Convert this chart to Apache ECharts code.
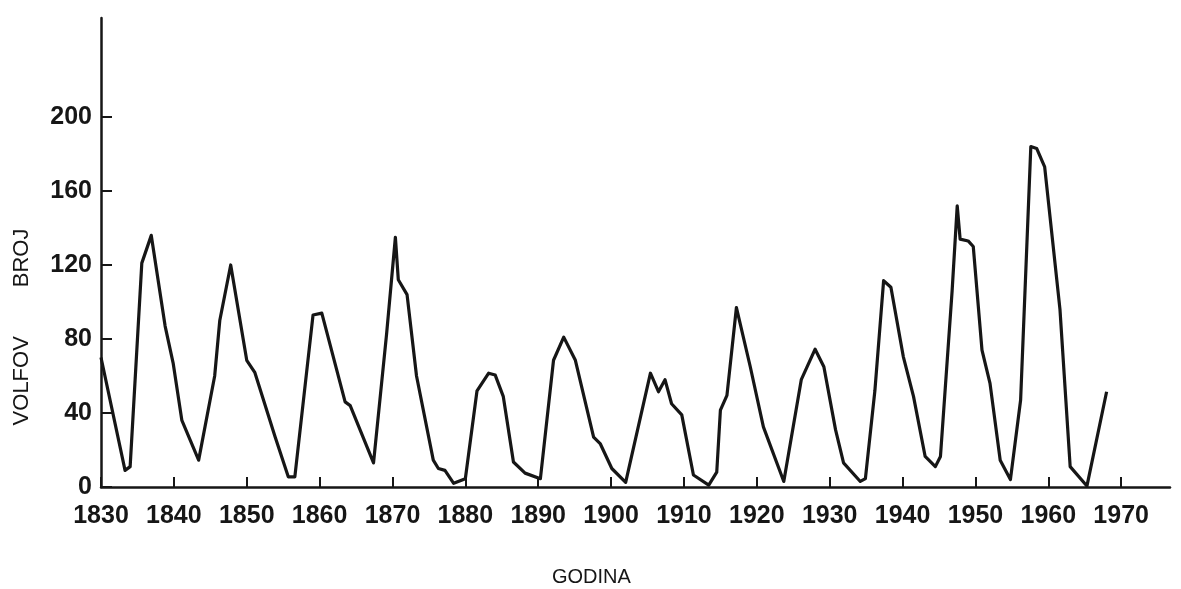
<!DOCTYPE html>
<html>
<head>
<meta charset="utf-8">
<script src="https://cdn.jsdelivr.net/npm/echarts@6/dist/echarts.min.js"></script>
<style>
  html, body { margin: 0; padding: 0; background: #fff; }
  #chart { width: 1181px; height: 589px; }
</style>
</head>
<body>
<div id="chart"></div>
<script>
// years (fractional where the curve bends between years)
var years = [1830.0, 1833.3, 1834.0, 1835.6, 1836.9, 1838.8, 1839.9, 1841.1, 1843.4, 1845.6,
  1846.3, 1847.8, 1850.0, 1851.1, 1853.9, 1855.7, 1856.6, 1859.1, 1860.3, 1863.5,
  1864.2, 1867.4, 1869.2, 1870.4, 1870.8, 1872.0, 1873.3, 1875.6, 1876.3, 1877.2,
  1878.4, 1880.0, 1881.6, 1883.2, 1884.1, 1885.2, 1886.6, 1888.2, 1890.3, 1892.1,
  1893.5, 1895.1, 1897.6, 1898.5, 1900.1, 1902.0, 1905.4, 1906.5, 1907.4, 1908.3,
  1909.7, 1911.3, 1913.4, 1914.5, 1915.0, 1915.9, 1917.2, 1919.1, 1920.9, 1923.7,
  1926.1, 1928.0, 1929.2, 1930.8, 1931.9, 1934.2, 1934.9, 1936.2, 1937.4, 1938.4,
  1940.1, 1941.5, 1943.1, 1944.5, 1945.2, 1946.8, 1947.5, 1947.9, 1949.0, 1949.7,
  1950.9, 1952.0, 1953.4, 1954.8, 1956.2, 1957.6, 1958.4, 1959.5, 1961.6, 1963.0,
  1965.3, 1968.0];

// Wolf sunspot number
var wolfNumber = [70, 9, 11, 121, 136, 87, 67, 36, 14.5, 60,
  90, 120, 68.5, 62, 27, 5.5, 5.5, 93, 94, 46,
  44, 13, 83, 135, 112, 104, 60, 14.5, 10, 9,
  2, 4.5, 52, 61.5, 60.5, 49, 13.5, 7.5, 4.5, 68.5,
  81, 68.5, 27, 23.5, 10, 2.5, 61.5, 51.5, 58, 45,
  39, 6.5, 1, 8, 41.5, 49.5, 97, 65, 32.5, 3,
  58, 74.5, 65, 31, 13, 3, 4.5, 52, 111.5, 108,
  70.5, 49, 16.5, 11, 16.5, 106, 152, 134, 133, 130,
  74, 56, 14.5, 4, 47, 184, 183, 173, 96, 11,
  0.5, 51.5];

var xTicks = [1830, 1840, 1850, 1860, 1870, 1880, 1890, 1900, 1910, 1920, 1930, 1940, 1950, 1960, 1970];
var yTicks = [0, 40, 80, 120, 160, 200];

var points = years.map(function (y, i) { return [y, wolfNumber[i]]; });

var ink = '#161616';
var labelFont = { color: ink, fontFamily: 'Liberation Sans', fontSize: 25, fontWeight: 'bold' };

var chart = echarts.init(document.getElementById('chart'));
chart.setOption({
    animation: false,
    backgroundColor: '#fff',
    grid: { left: 101, right: 11, top: 18, bottom: 102, outerBoundsMode: 'none' },
    xAxis: {
        type: 'value',
        min: 1830,
        max: 1976.7,
        axisLine: { lineStyle: { color: ink, width: 2.5 } },
        axisTick: { inside: true, length: 10, customValues: xTicks, lineStyle: { color: ink, width: 2 } },
        axisLabel: Object.assign({ customValues: xTicks, margin: 17, formatter: function (v) { return String(v); } }, labelFont),
        splitLine: { show: false }
    },
    yAxis: {
        type: 'value',
        min: 0,
        max: 253.5,
        axisLine: { show: true, lineStyle: { color: ink, width: 2.5 } },
        axisTick: { show: true, inside: true, length: 11, customValues: yTicks, lineStyle: { color: ink, width: 2 } },
        axisLabel: Object.assign({ customValues: yTicks, margin: 9, formatter: function (v) { return String(v); } }, labelFont),
        splitLine: { show: false }
    },
    graphic: [
        {
            type: 'text',
            left: 552, top: 567,
            style: { text: 'GODINA', fill: ink, font: '20px "Liberation Sans"' }
        },
        {
            type: 'text',
            x: 22, y: 327,
            rotation: Math.PI / 2,
            style: {
                text: 'VOLFOV        BROJ', fill: ink, font: '22px "Liberation Sans"',
                align: 'center', verticalAlign: 'middle'
            }
        }
    ],
    series: [{
        type: 'line',
        data: points,
        showSymbol: false,
        lineStyle: { color: ink, width: 3.2, join: 'round' },
        clip: false
    }]
});
</script>
</body>
</html>
